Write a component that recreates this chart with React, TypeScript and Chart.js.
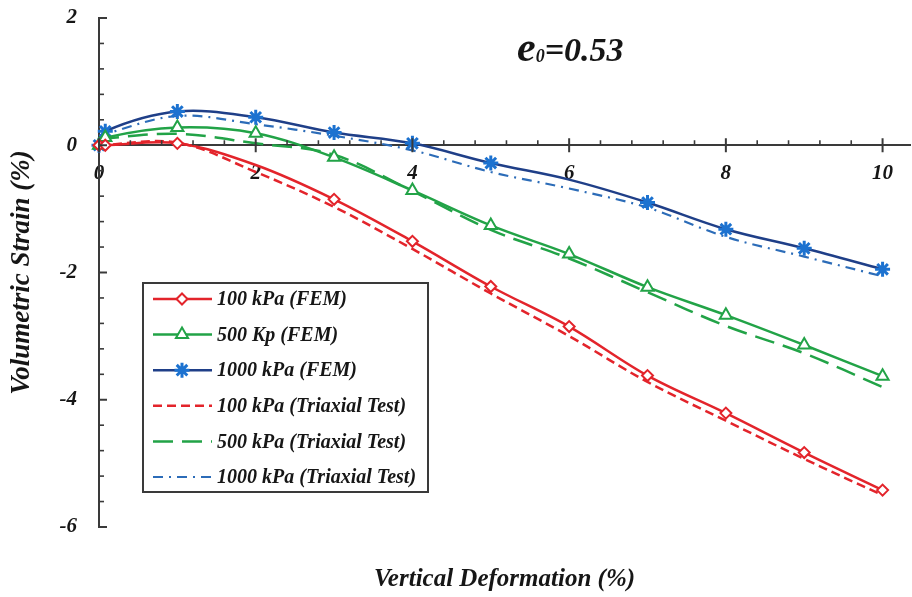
import React, { useEffect, useRef } from 'react';
import { Chart, registerables } from 'chart.js';
import { drawPoint } from 'chart.js/helpers';

Chart.register(...registerables);

// ---- data ----
const xFem = [0, 0.08, 1, 2, 3, 4, 5, 6, 7, 8, 9, 10];
const fem100 = [0, 0, 0.03, -0.31, -0.85, -1.51, -2.22, -2.85, -3.62, -4.21, -4.83, -5.42];
const fem500 = [0, 0.12, 0.28, 0.19, -0.19, -0.71, -1.26, -1.71, -2.23, -2.67, -3.14, -3.63];
const fem1000 = [0, 0.22, 0.53, 0.44, 0.2, 0.03, -0.28, -0.54, -0.9, -1.32, -1.62, -1.95];
const fem100NoMarkerAt = [2];
const fem1000NoMarkerAt = [6];

const xTest = [0, 1, 2, 3, 4, 5, 6, 7, 8, 9, 10];
const test100 = [0, 0.04, -0.42, -0.97, -1.63, -2.33, -3.0, -3.72, -4.33, -4.93, -5.5];
const test500 = [0.1, 0.18, 0.03, -0.15, -0.72, -1.33, -1.78, -2.31, -2.84, -3.27, -3.8];
const test1000 = [0.15, 0.46, 0.33, 0.15, -0.08, -0.42, -0.68, -0.98, -1.44, -1.75, -2.06];

const seriesNames = [
  '100 kPa (FEM)',
  '500 Kp (FEM)',
  '1000 kPa (FEM)',
  '100 kPa (Triaxial Test)',
  '500 kPa (Triaxial Test)',
  '1000 kPa (Triaxial Test)',
];

const xTickLabels = [0, 2, 4, 6, 8, 10];
const yTickLabels = [-6, -4, -2, 0, 2];
const MINOR_STEP = 0.4;
const X_MIN = 0;
const X_MAX = 10.35;
const Y_MIN = -6;
const Y_MAX = 2;

const xTitle = 'Vertical Deformation (%)';
const yTitle = 'Volumetric Strain (%)';

// ---- styles ----
const RED = '#e3242b';
const GREEN = '#22a347';
const NAVY = '#1f3f88';
const BLUE = '#1c72d0';
const BLUE_DASH = '#2c6cb8';
const AXIS = '#3a3a3a';
const TEXT = '#161616';
const SERIF = '"Liberation Serif", "Times New Roman", serif';

const pts = (xs: number[], ys: number[]) => xs.map((x, i) => ({ x, y: ys[i] }));

const zeroPad = (s: any) => {
  s.paddingTop = 0;
  s.paddingBottom = 0;
  s.paddingLeft = 0;
  s.paddingRight = 0;
};

const axisTicksPlugin = {
  id: 'axisTicks',
  afterDraw(chart: any) {
    const { ctx } = chart;
    const xs = chart.scales.x;
    const ys = chart.scales.y;
    const y0 = ys.getPixelForValue(0);
    const xLeft = chart.chartArea.left;
    ctx.save();
    ctx.strokeStyle = AXIS;
    const nX = Math.floor((X_MAX - X_MIN) / MINOR_STEP + 1e-6);
    for (let k = 0; k <= nX; k++) {
      const v = X_MIN + k * MINOR_STEP;
      const px = xs.getPixelForValue(v);
      const major = xTickLabels.some((t) => Math.abs(t - v) < 1e-6);
      ctx.beginPath();
      if (major) {
        ctx.lineWidth = 2;
        ctx.moveTo(px, y0 - 7);
        ctx.lineTo(px, y0 + 7);
      } else {
        ctx.lineWidth = 1.6;
        ctx.moveTo(px, y0 - 5);
        ctx.lineTo(px, y0);
      }
      ctx.stroke();
    }
    const nY = Math.round((Y_MAX - Y_MIN) / MINOR_STEP);
    for (let k = 0; k <= nY; k++) {
      const v = Y_MIN + k * MINOR_STEP;
      const py = ys.getPixelForValue(v);
      const major = yTickLabels.some((t) => Math.abs(t - v) < 1e-6);
      ctx.beginPath();
      ctx.lineWidth = major ? 2 : 1.6;
      ctx.moveTo(xLeft, py);
      ctx.lineTo(xLeft + (major ? 8 : 5), py);
      ctx.stroke();
    }
    ctx.restore();
  },
};

const legendPlugin = {
  id: 'boxLegend',
  afterDraw(chart: any) {
    const { ctx } = chart;
    const boxX = 143;
    const boxY = 283;
    const boxW = 285;
    const boxH = 209;
    const rowY0 = 299;
    const rowStep = 35.6;
    ctx.save();
    ctx.fillStyle = '#ffffff';
    ctx.fillRect(boxX, boxY, boxW, boxH);
    ctx.lineWidth = 2;
    ctx.strokeStyle = AXIS;
    ctx.setLineDash([]);
    ctx.strokeRect(boxX, boxY, boxW, boxH);
    chart.data.datasets.forEach((ds: any, i: number) => {
      const y = rowY0 + i * rowStep;
      ctx.save();
      ctx.strokeStyle = ds.borderColor;
      ctx.lineWidth = ds.borderWidth;
      ctx.setLineDash(ds.borderDash || []);
      ctx.beginPath();
      ctx.moveTo(153, y);
      ctx.lineTo(212, y);
      ctx.stroke();
      ctx.setLineDash([]);
      if (ds.legendMarker) {
        ctx.fillStyle = ds.pointBackgroundColor;
        ctx.strokeStyle = ds.pointBorderColor;
        ctx.lineWidth = ds.pointBorderWidth;
        drawPoint(ctx, { pointStyle: ds.pointStyle, rotation: 0, borderWidth: ds.pointBorderWidth, radius: ds.legendMarker }, 182, y);
      }
      ctx.restore();
      ctx.fillStyle = TEXT;
      ctx.font = `italic bold 20px ${SERIF}`;
      ctx.textBaseline = 'middle';
      ctx.textAlign = 'left';
      ctx.fillText(ds.label, 217, y + 1);
    });
    ctx.restore();
  },
};

const annotationPlugin = {
  id: 'e0note',
  afterDraw(chart: any) {
    const { ctx } = chart;
    ctx.save();
    ctx.fillStyle = TEXT;
    ctx.textBaseline = 'alphabetic';
    ctx.textAlign = 'left';
    let x = 517;
    const base = 61;
    ctx.font = `italic bold 42px ${SERIF}`;
    ctx.fillText('e', x, base);
    x += ctx.measureText('e').width;
    ctx.font = `italic bold 18px ${SERIF}`;
    ctx.fillText('0', x, base + 1);
    x += ctx.measureText('0').width;
    ctx.font = `italic bold 34px ${SERIF}`;
    ctx.fillText('=0.53', x, base);
    ctx.restore();
  },
};

export default function App() {
  const canvasRef = useRef<HTMLCanvasElement | null>(null);

  useEffect(() => {
    if (!canvasRef.current) return;
    const tickFont = { family: SERIF, size: 21, weight: 'bold' as const, style: 'italic' as const };
    const xTitleFont = { family: SERIF, size: 25, weight: 'bold' as const, style: 'italic' as const };
    const yTitleFont = { family: SERIF, size: 27, weight: 'bold' as const, style: 'italic' as const };

    const chart = new Chart(canvasRef.current, {
      type: 'line',
      data: {
        datasets: [
          {
            label: seriesNames[0],
            data: pts(xFem, fem100),
            xAxisID: 'x',
            borderColor: RED,
            borderWidth: 2.5,
            tension: 0.35,
            pointStyle: 'rectRot',
            pointRadius: (c: any) => (fem100NoMarkerAt.includes(xFem[c.dataIndex]) ? 0 : 5.5),
            pointBorderWidth: 2,
            pointBorderColor: RED,
            pointBackgroundColor: '#ffffff',
            clip: false,
            legendMarker: 5.5,
          } as any,
          {
            label: seriesNames[1],
            data: pts(xFem, fem500),
            xAxisID: 'x',
            borderColor: GREEN,
            borderWidth: 2.5,
            tension: 0.35,
            pointStyle: 'triangle',
            pointRadius: 7,
            pointBorderWidth: 2,
            pointBorderColor: GREEN,
            pointBackgroundColor: '#ffffff',
            clip: false,
            legendMarker: 7,
          } as any,
          {
            label: seriesNames[2],
            data: pts(xFem, fem1000),
            xAxisID: 'x',
            borderColor: NAVY,
            borderWidth: 2.5,
            tension: 0.35,
            pointStyle: 'star',
            pointRadius: (c: any) => (fem1000NoMarkerAt.includes(xFem[c.dataIndex]) ? 0 : 7.5),
            pointBorderWidth: 3,
            pointBorderColor: BLUE,
            pointBackgroundColor: BLUE,
            clip: false,
            legendMarker: 7.5,
          } as any,
          {
            label: seriesNames[3],
            data: pts(xTest, test100),
            xAxisID: 'x',
            borderColor: RED,
            borderWidth: 2.5,
            borderDash: [9, 5],
            tension: 0.35,
            pointRadius: 0,
            clip: false,
          } as any,
          {
            label: seriesNames[4],
            data: pts(xTest, test500),
            xAxisID: 'x',
            borderColor: GREEN,
            borderWidth: 2.5,
            borderDash: [20, 9],
            tension: 0.35,
            pointRadius: 0,
            clip: false,
          } as any,
          {
            label: seriesNames[5],
            data: pts(xTest, test1000),
            xAxisID: 'x',
            borderColor: BLUE_DASH,
            borderWidth: 2.2,
            borderDash: [10, 6, 2, 6],
            tension: 0.35,
            pointRadius: 0,
            clip: false,
          } as any,
        ],
      },
      options: {
        animation: false,
        responsive: false,
        maintainAspectRatio: false,
        events: [],
        layout: { autoPadding: false, padding: { top: 18, right: 2, left: 0, bottom: 0 } },
        plugins: {
          legend: { display: false },
          tooltip: { enabled: false },
        },
        scales: {
          x: {
            type: 'linear',
            position: { y: 0 } as any,
            min: X_MIN,
            max: X_MAX,
            afterBuildTicks: (s: any) => {
              s.ticks = xTickLabels.map((v) => ({ value: v }));
            },
            afterFit: (s: any) => {
              s.height = 0;
              zeroPad(s);
            },
            grid: { display: true, color: 'rgba(0,0,0,0)', drawTicks: false },
            border: { display: true, color: AXIS, width: 2 },
            ticks: {
              padding: 16,
              color: TEXT,
              font: tickFont,
              maxRotation: 0,
              autoSkip: false,
              callback: (v: any) => String(v),
            },
          },
          x2: {
            type: 'linear',
            position: 'bottom',
            min: X_MIN,
            max: X_MAX,
            display: true,
            grid: { display: false },
            border: { display: false },
            ticks: { display: false },
            title: { display: true, text: xTitle, font: xTitleFont, color: TEXT, padding: { top: 0, bottom: 2 } },
            afterFit: (s: any) => {
              s.height = 70;
              zeroPad(s);
            },
          },
          y: {
            type: 'linear',
            position: 'left',
            min: Y_MIN,
            max: Y_MAX,
            afterBuildTicks: (s: any) => {
              s.ticks = yTickLabels.map((v) => ({ value: v }));
            },
            afterFit: (s: any) => {
              s.width = 99;
              zeroPad(s);
            },
            grid: { display: true, color: 'rgba(0,0,0,0)', drawTicks: false },
            border: { display: true, color: AXIS, width: 2 },
            ticks: {
              padding: 22,
              color: TEXT,
              font: tickFont,
              callback: (v: any) => String(v),
            },
            title: { display: true, text: yTitle, font: yTitleFont, color: TEXT, padding: { top: 6, bottom: 0 } },
          },
        },
      } as any,
      plugins: [axisTicksPlugin, legendPlugin, annotationPlugin],
    });
    return () => chart.destroy();
  }, []);

  return (
    <div style={{ position: 'fixed', left: 0, top: 0, width: 912, height: 597, background: '#ffffff' }}>
      <canvas ref={canvasRef} width={912} height={597} style={{ display: 'block', width: 912, height: 597 }} />
    </div>
  );
}
